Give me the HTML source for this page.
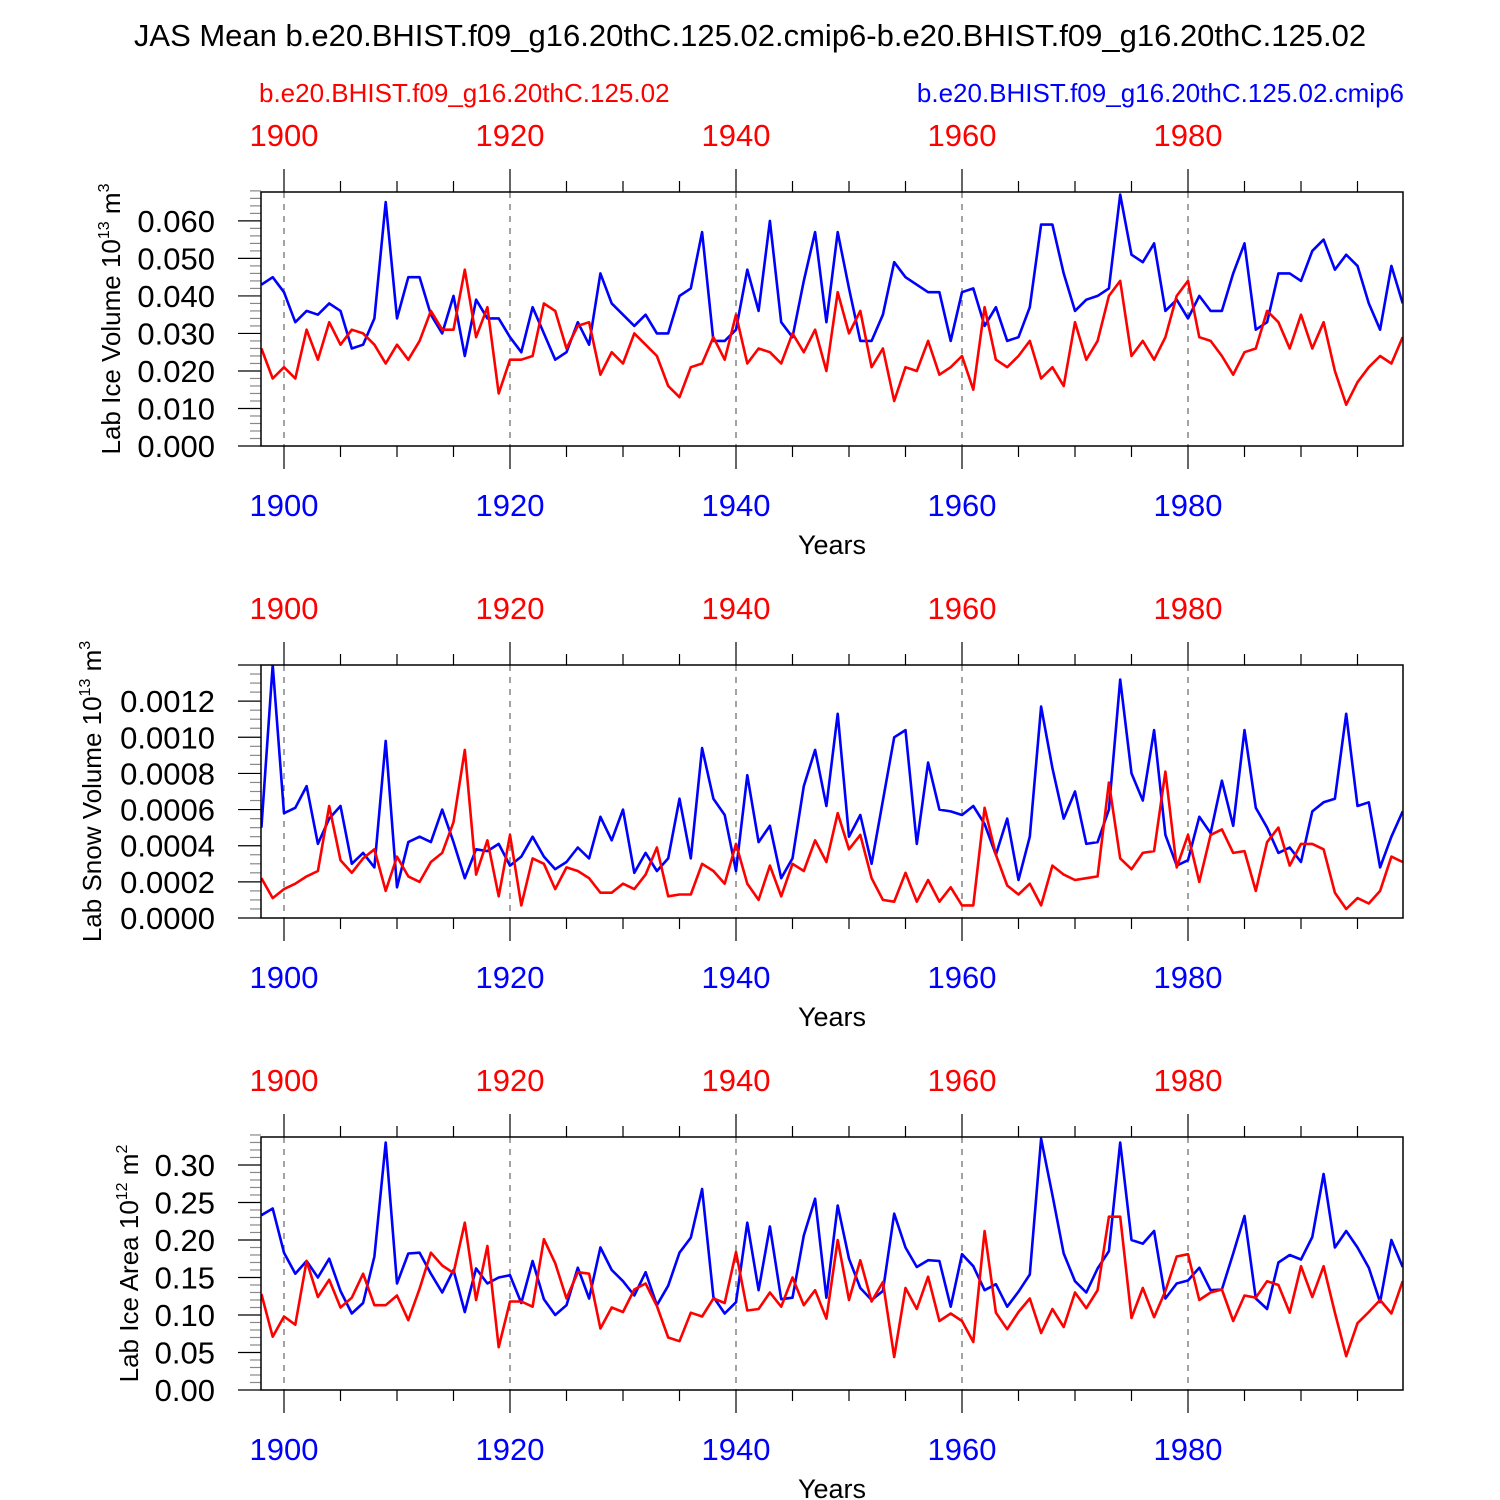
<!DOCTYPE html>
<html><head><meta charset="utf-8"><title>JAS Mean Lab chart</title>
<style>
html,body{margin:0;padding:0;background:#fff;}
svg{display:block;font-family:"Liberation Sans",sans-serif;}
</style></head>
<body>
<svg id="chart" width="1500" height="1500" viewBox="0 0 1500 1500" xmlns="http://www.w3.org/2000/svg">
<rect x="0" y="0" width="1500" height="1500" fill="#fff"/>
<text x="750" y="46" text-anchor="middle" font-size="31">JAS Mean b.e20.BHIST.f09_g16.20thC.125.02.cmip6-b.e20.BHIST.f09_g16.20thC.125.02</text>
<text x="259" y="102" font-size="26" fill="#ff0000">b.e20.BHIST.f09_g16.20thC.125.02</text>
<text x="1404" y="102" text-anchor="end" font-size="26" fill="#0000ff">b.e20.BHIST.f09_g16.20thC.125.02.cmip6</text>
<g id="panels"></g>
</svg>
<script>
const years = []; for (let y = 1898; y <= 1999; y++) years.push(y);
const xTickLabels = ["1900","1920","1940","1960","1980"];

const iceVolBlue = [43,45,41,33,36,35,38,36,26,27,34,65,34,45,45,35,30,40,24,39,34,34,29,25,37,30,23,25,33,27,46,38,35,32,35,30,30,40,42,57,28,28,31,47,36,60,33,29,44,57,33,57,42,28,28,35,49,45,43,41,41,28,41,42,32,37,28,29,37,59,59,46,36,39,40,42,67,51,49,54,36,39,34,40,36,36,46,54,31,33,46,46,44,52,55,47,51,48,38,31,48,38];
const iceVolRed = [26,18,21,18,31,23,33,27,31,30,27,22,27,23,28,36,31,31,47,29,37,14,23,23,24,38,36,26,32,33,19,25,22,30,27,24,16,13,21,22,29,23,35,22,26,25,22,30,25,31,20,41,30,36,21,26,12,21,20,28,19,21,24,15,37,23,21,24,28,18,21,16,33,23,28,40,44,24,28,23,29,40,44,29,28,24,19,25,26,36,33,26,35,26,33,20,11,17,21,24,22,29];
const snowVolBlue = [5.0,14.0,5.8,6.1,7.3,4.1,5.5,6.2,3.0,3.6,2.8,9.8,1.7,4.2,4.5,4.2,6.0,4.2,2.2,3.8,3.7,4.1,2.9,3.4,4.5,3.4,2.7,3.1,3.9,3.3,5.6,4.3,6.0,2.5,3.6,2.6,3.3,6.6,3.3,9.4,6.6,5.7,2.6,7.9,4.2,5.1,2.2,3.3,7.3,9.3,6.2,11.3,4.5,5.7,3.0,6.5,10.0,10.4,4.1,8.6,6.0,5.9,5.7,6.2,5.2,3.5,5.5,2.1,4.5,11.7,8.3,5.5,7.0,4.1,4.2,6.0,13.2,8.0,6.5,10.4,4.6,2.9,3.2,5.6,4.7,7.6,5.1,10.4,6.1,5.0,3.6,3.9,3.1,5.9,6.4,6.6,11.3,6.2,6.4,2.8,4.5,5.9];
const snowVolRed = [2.2,1.1,1.6,1.9,2.3,2.6,6.2,3.2,2.5,3.3,3.8,1.5,3.4,2.3,2.0,3.1,3.6,5.3,9.3,2.4,4.3,1.2,4.6,0.7,3.3,3.0,1.6,2.8,2.6,2.2,1.4,1.4,1.9,1.6,2.4,3.9,1.2,1.3,1.3,3.0,2.6,1.9,4.1,1.9,1.0,2.9,1.2,3.0,2.6,4.3,3.1,5.8,3.8,4.6,2.2,1.0,0.9,2.5,0.9,2.1,0.9,1.7,0.7,0.7,6.1,3.5,1.8,1.3,1.9,0.7,2.9,2.4,2.1,2.2,2.3,7.5,3.3,2.7,3.6,3.7,8.1,2.8,4.6,2.0,4.6,4.9,3.6,3.7,1.5,4.2,5.0,2.9,4.1,4.1,3.8,1.4,0.5,1.1,0.8,1.5,3.4,3.1];
const iceAreaBlue = [23.3,24.2,18.3,15.5,17.2,15.0,17.5,13.2,10.2,11.6,17.8,33.0,14.2,18.2,18.3,15.5,13.0,16.0,10.4,16.2,14.2,15.0,15.3,11.6,17.2,12.1,10.0,11.3,16.3,12.2,19.0,16.0,14.5,12.6,15.7,11.3,13.9,18.3,20.3,26.8,12.4,10.2,11.7,22.3,13.3,21.8,12.1,12.3,20.6,25.5,12.3,24.6,17.5,13.6,12.0,13.2,23.5,19.0,16.4,17.3,17.2,11.1,18.1,16.5,13.3,14.1,11.1,13.1,15.4,33.5,26.0,18.2,14.5,13.0,16.2,18.5,33.0,20.0,19.5,21.2,12.2,14.2,14.6,16.3,13.3,13.4,18.2,23.2,12.2,10.8,17.0,18.0,17.4,20.4,28.8,19.0,21.2,19.0,16.3,11.7,20.0,16.4];
const iceAreaRed = [12.8,7.1,9.8,8.7,17.2,12.4,14.7,11.0,12.3,15.5,11.3,11.3,12.6,9.3,13.5,18.3,16.6,15.6,22.3,12.0,19.2,5.7,11.8,11.8,11.1,20.1,16.9,12.2,15.7,15.5,8.2,11.0,10.4,13.4,14.2,11.2,7.0,6.5,10.3,9.8,12.2,11.6,18.4,10.6,10.8,13.0,11.1,15.0,11.3,13.3,9.5,20.0,12.0,17.3,11.8,14.4,4.4,13.6,10.8,15.1,9.2,10.2,9.2,6.4,21.2,10.3,8.1,10.4,12.2,7.6,10.8,8.4,13.0,10.9,13.3,23.1,23.1,9.6,13.6,9.7,13.2,17.8,18.1,12.0,13.0,13.4,9.2,12.6,12.3,14.5,14.0,10.3,16.5,12.4,16.5,10.3,4.5,8.9,10.4,12.0,10.2,14.5];

const iceVolTicks = ["0.000","0.010","0.020","0.030","0.040","0.050","0.060"];
const snowVolTicks = ["0.0000","0.0002","0.0004","0.0006","0.0008","0.0010","0.0012"];
const iceAreaTicks = ["0.00","0.05","0.10","0.15","0.20","0.25","0.30"];

const NS = "http://www.w3.org/2000/svg";
const X0 = 261, X1 = 1403;
function xScale(yr){ return 284 + (yr - 1900) * 11.3; }
function mk(tag, attrs, parent){ const e = document.createElementNS(NS, tag); for (const k in attrs) e.setAttribute(k, attrs[k]); parent.appendChild(e); return e; }

const panels = [
  {top:192, bot:446, ymax:0.0677, scale:0.001, blue:iceVolBlue, red:iceVolRed, ticks:iceVolTicks, major:0.010, minor:0.002, label:"Lab Ice Volume 10", sup:"13", unit:" m", usup:"3", name:"ice-volume", tx:120},
  {top:665, bot:918, ymax:0.0014, scale:0.0001, blue:snowVolBlue, red:snowVolRed, ticks:snowVolTicks, major:0.0002, minor:0.00005, label:"Lab Snow Volume 10", sup:"13", unit:" m", usup:"3", name:"snow-volume", tx:101},
  {top:1137, bot:1390, ymax:0.3373, scale:0.01, blue:iceAreaBlue, red:iceAreaRed, ticks:iceAreaTicks, major:0.05, minor:0.01, label:"Lab Ice Area 10", sup:"12", unit:" m", usup:"2", name:"ice-area", tx:138}
];
const root = document.getElementById('panels');
panels.forEach((p, pi) => {
  const g = mk('g', {}, root);
  
  
  const yS = v => p.bot - v / p.ymax * (p.bot - p.top);
  const cid = 'clip' + pi;
  const cp = mk('clipPath', {id: cid}, g);
  mk('rect', {x:X0, y:p.top, width:X1-X0, height:p.bot-p.top}, cp);
  xTickLabels.forEach(t => {
    const x = xScale(+t);
    const l = mk('line', {x1:x, x2:x, y1:p.top, y2:p.bot, stroke:'#666', 'stroke-width':1.2, 'stroke-dasharray':'6,6'}, g);
    
    
  });
  for (let yr = 1900; yr <= 1999; yr += 5) {
    const x = xScale(yr); const major = (yr % 20 === 0); const len = major ? 23 : 11;
    mk('line', {x1:x, x2:x, y1:p.bot, y2:p.bot+len, stroke:'#000', 'stroke-width':1.2}, g);
    mk('line', {x1:x, x2:x, y1:p.top, y2:p.top-len, stroke:'#000', 'stroke-width':1.2}, g);
  }
  xTickLabels.forEach(t => {
    const x = xScale(+t);
    const a = mk('text', {x:x, y:p.top-46, 'text-anchor':'middle', 'font-size':31, fill:'#ff0000'}, g);
    a.textContent = t;
    
    
    const b = mk('text', {x:x, y:p.bot+70, 'text-anchor':'middle', 'font-size':31, fill:'#0000ff'}, g);
    b.textContent = t;
    
    
  });
  const xt = mk('text', {x:832, y:p.bot+108, 'text-anchor':'middle', 'font-size':27}, g);
  xt.textContent = 'Years';
  
  
  const nMinor = Math.round(p.ymax / p.minor);
  for (let i = 0; i <= nMinor; i++) {
    const v = i * p.minor; const y = yS(v);
    const isMajor = Math.abs(v / p.major - Math.round(v / p.major)) < 1e-6;
    mk('line', {x1:X0 - (isMajor ? 23 : 11), x2:X0, y1:y, y2:y, stroke: isMajor ? '#000' : '#888', 'stroke-width':1.2}, g);
  }
  p.ticks.forEach(t => {
    const y = yS(+t);
    const tx = mk('text', {x:215, y:y+11, 'text-anchor':'end', 'font-size':31}, g);
    tx.textContent = t;
    
    
  });
  const cy = (p.top + p.bot) / 2;
  const yt = mk('text', {x:0, y:0, 'text-anchor':'middle', 'font-size':26, transform:`translate(${p.tx},${cy}) rotate(-90)`}, g);
  
  
  const s1 = document.createElementNS(NS, 'tspan'); s1.textContent = p.label; yt.appendChild(s1);
  const s2 = document.createElementNS(NS, 'tspan'); s2.setAttribute('dy', '-11'); s2.setAttribute('font-size', '16'); s2.textContent = p.sup; yt.appendChild(s2);
  const s3 = document.createElementNS(NS, 'tspan'); s3.setAttribute('dy', '11'); s3.textContent = p.unit; yt.appendChild(s3);
  const s4 = document.createElementNS(NS, 'tspan'); s4.setAttribute('dy', '-11'); s4.setAttribute('font-size', '16'); s4.textContent = p.usup; yt.appendChild(s4);
  [[p.blue, '#0000ff', 'blue-cmip6-line'], [p.red, '#ff0000', 'red-case-line']].forEach(([arr, col, nm]) => {
    const pts = arr.map((v, i) => xScale(years[i]).toFixed(1) + ',' + yS(v * p.scale).toFixed(1)).join(' ');
    const pl = mk('polyline', {points:pts, fill:'none', stroke:col, 'stroke-width':2.6, 'stroke-linejoin':'round', 'clip-path':`url(#${cid})`}, g);
    
    
  });
  const bx = mk('rect', {x:X0, y:p.top, width:X1-X0, height:p.bot-p.top, fill:'none', stroke:'#000', 'stroke-width':1.5}, g);
  
  
});
</script>
</body></html>
